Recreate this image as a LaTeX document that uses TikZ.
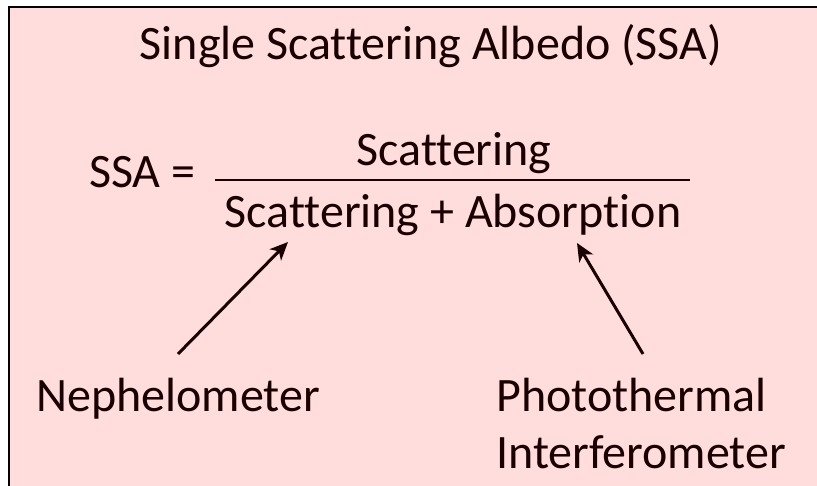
\documentclass[tikz,border=0pt]{standalone}
\usepackage{fontspec}
\setmainfont[Ligatures={NoCommon}]{Carlito}
\usetikzlibrary{arrows.meta}
\definecolor{bgpink}{RGB}{255,221,221}
\definecolor{ink}{RGB}{26,0,0}
\tikzset{
  lbl/.style={inner sep=0pt, text=ink, font=\fontsize{48}{57}\selectfont},
  arr/.style={draw=ink, line width=3pt, -{Stealth[length=18pt,width=16pt,inset=5pt]}},
}
\begin{document}
\begin{tikzpicture}[x=1pt,y=-1pt]
\useasboundingbox (0,0) rectangle (817,486);
\clip (0,0) rectangle (817,486);
\fill[white] (0,0) rectangle (817,486);
\draw[fill=bgpink, draw=black, line width=2pt] (8.5,7.5) rectangle (840,510);
\node[lbl, anchor=base] (title) at (431,60) {Single Scattering Albedo (SSA)};
\node[lbl, anchor=base west] (ssa) at (89,188) {SSA =};
\node[lbl, anchor=base] (num) at (454,166) {Scattering};
\node[lbl, anchor=base] (den) at (453,228) {Scattering + Absorption};
\coordinate (fl) at (215,180);
\coordinate (fr) at (690,180);
\draw[draw=ink, line width=2pt] (fl) -- (fr);
\node[lbl, anchor=base west] (neph) at (36,411) {Nephelometer};
\node[lbl, anchor=base west] (photo) at (496,411) {Photothermal};
\node[lbl, anchor=base west] (inter) at (496,468) {Interferometer};
\coordinate (a1s) at (178,354);
\coordinate (a1e) at (288,242);
\coordinate (a2s) at (643,354);
\coordinate (a2e) at (577,243);
\draw[arr] (a1s) -- (a1e);
\draw[arr] (a2s) -- (a2e);
\end{tikzpicture}
\end{document}
